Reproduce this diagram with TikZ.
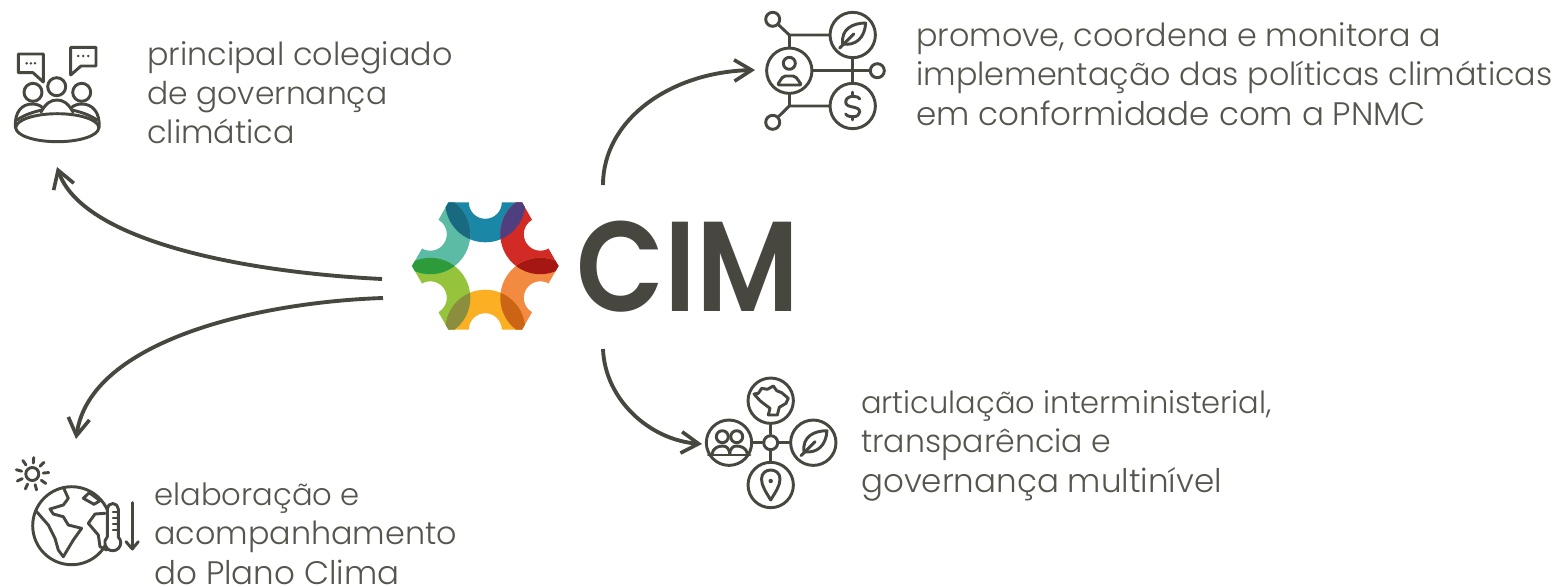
\documentclass[tikz,border=0pt]{standalone}
\usepackage{fontspec}
\setmainfont{Poppins Light}
\newfontfamily\logofont{Poppins SemiBold}
\usetikzlibrary{arrows.meta}
\definecolor{ink}{HTML}{47473F}
\definecolor{txt}{HTML}{55554D}
\newcommand{\sz}[1]{\fontsize{#1pt}{29.4pt}\selectfont}
\tikzset{
  icon/.style={draw=ink,line width=2.2pt,line join=round,line cap=round},
  ring/.style={circle,draw=ink,line width=2.2pt,inner sep=0pt,minimum size=34pt,fill=white},
  dotring/.style={ring,minimum size=10.5pt},
  flow/.style={draw=ink,line width=2.9pt,-{Straight Barb[length=13pt,width=16pt,line width=2.7pt]}},
  lbl/.style={anchor=base west,text=txt,inner sep=0pt,align=left,font=\sz{23.85}},
}
\newcommand{\leafic}[1]{%
  \draw[icon,shift={(#1)}] (13,-12) .. controls (0,-12) and (-12,-6) .. (-10,9) .. controls (3,11) and (12,3) .. cycle;
  \draw[icon,shift={(#1)}] (-13,13) -- (1,-1);}
\begin{document}
\begin{tikzpicture}[x=0.75pt,y=-0.75pt]
\useasboundingbox (0,0) rectangle (1558,586);
% logo
\def\Rout{40}\def\Rin{16.5}
\coordinate (hex) at (485.3,266);
\newcommand{\hexclip}{\clip (412,266) -- (448.5,202.3) -- (522,202.3) -- (558.5,266) -- (522,329.7) -- (448.5,329.7) -- cycle;}
\coordinate (mB) at (485.3,202.3);
\coordinate (mR) at (540.3,234.2);
\coordinate (mO) at (540.3,297.8);
\coordinate (mY) at (485.3,329.7);
\coordinate (mG) at (430.3,297.8);
\coordinate (mT) at (430.3,234.2);
\begin{scope}
\hexclip
\foreach \m/\c in {mB/1B87A6,mR/D22B26,mO/F28A42,mY/FBB024,mG/95C43C,mT/5BBBA4}{
  \definecolor{pc}{HTML}{\c}
  \fill[pc,even odd rule] (\m) circle (\Rout) (\m) circle (\Rin);
}
\foreach \a/\b/\c in {mB/mR/503F7E,mR/mO/A51712,mO/mY/CC6415,mY/mG/8A8E3D,mG/mT/2E9B3B,mT/mB/196A80}{
  \definecolor{pc}{HTML}{\c}
  \begin{scope}
    \clip (\a) circle (\Rout);
    \fill[pc] (\b) circle (\Rout);
  \end{scope}
}
\end{scope}
\node[anchor=base west,inner sep=0pt,text=ink,font=\logofont\fontsize{96pt}{96pt}\selectfont] (cim) at (576,311) {\scalebox{0.895}[1]{CIM}};
% connector ends
\coordinate (a1) at (382,279); \coordinate (b1) at (57,167);
\coordinate (a2) at (383,298); \coordinate (b2) at (76,439);
\coordinate (a3) at (603,185); \coordinate (b3) at (755,70);
\coordinate (a4) at (603,349); \coordinate (b4) at (702,444);
\draw[flow] (a1) .. controls (240,272) and (82,240) .. (b1);
\draw[flow] (a2) .. controls (260,302) and (90,340) .. (b2);
\draw[flow] (a3) .. controls (603,120) and (670,72) .. (b3);
\draw[flow] (a4) .. controls (605,400) and (650,440) .. (b4);
% icon 1
\draw[icon] (18.3,54) -- (43.3,54) -- (43.3,82) -- (33,72.7) -- (18.3,72.7) -- cycle;
\draw[icon] (70.7,47.3) -- (96,47.3) -- (96,66) -- (81,66) -- (70.7,75) -- cycle;
\foreach \x in {26.7,30.9,35}{\fill[ink] (\x,63.3) circle (1.4);}
\foreach \x in {78.3,83.3,88.3}{\fill[ink] (\x,56) circle (1.4);}
\node[dotring,minimum size=13.5pt] (h1) at (33,92.3) {};
\node[dotring,minimum size=13.5pt] (h2) at (56.7,86.7) {};
\node[dotring,minimum size=13.5pt] (h3) at (81.7,92.3) {};
\draw[icon] (15.5,128) .. controls (14,112) and (22,104) .. (32,104) .. controls (36,104) and (40,105) .. (43,108);
\draw[icon] (99,128) .. controls (100.5,112) and (92,104) .. (82,104) .. controls (78,104) and (74,105) .. (71,108);
\draw[icon] (41,112) .. controls (46,103) and (51,100) .. (57,100) .. controls (63,100) and (68,103) .. (73,112);
\draw[icon] (17,120) .. controls (24,115) and (33,112) .. (42,110);
\draw[icon] (97,120) .. controls (90,115) and (81,112) .. (72,110);
\draw[icon,fill=white] (57.3,127.7) ellipse (41.5 and 14);
% icon 2
\node[ring] (person) at (789.3,70.7) {};
\node[ring] (leaf1) at (852.7,35) {};
\node[ring] (dollar) at (852.7,106) {};
\node[dotring] (s1) at (772.7,19.3) {};
\node[dotring] (s2) at (772.7,122.3) {};
\node[dotring] (s3) at (877.3,70.7) {};
\coordinate (j1) at (789.3,35); \coordinate (j2) at (789.3,106);
\draw[icon] (s1) -- (j1) -- (leaf1);
\draw[icon] (j1) -- (person);
\draw[icon] (s2) -- (j2) -- (dollar);
\draw[icon] (j2) -- (person);
\draw[icon] (person) -- (s3);
\draw[icon] (leaf1) -- (dollar);
\draw[icon] (789.3,63.3) circle (6);
\draw[icon,rounded corners=1.5pt] (777.3,85) -- (801.7,85) -- (795,76) -- (783.3,76) -- cycle;
\leafic{852.7,35}
\begin{scope}[shift={(852.7,106)}]
\draw[icon] (7,-7) .. controls (5,-11) and (-7,-11) .. (-7,-4) .. controls (-7,3) and (7,-1) .. (7,6) .. controls (7,12) and (-5,12) .. (-7,8);
\draw[icon] (0,-14) -- (0,-10); \draw[icon] (0,11) -- (0,14);
\end{scope}
% icon 3
\node[dotring] (hub) at (770.7,442.7) {};
\node[ring] (map) at (770.7,400.7) {};
\node[ring] (pin) at (770.7,485) {};
\node[ring] (ppl) at (729,442.7) {};
\node[ring] (leaf2) at (813.3,442.7) {};
\foreach \n in {map,pin,ppl,leaf2}{\draw[icon] (hub) -- (\n);}
\draw[icon] (754,394) -- (758.3,393.3) -- (761.7,388.3) -- (767.3,389.3) -- (773.3,386) -- (776.7,390.7) -- (781.7,392.7) -- (788.3,398.3) -- (786,403.3) -- (779.3,407.3) -- (777.3,415) -- (768.3,415) -- (770,408.3) -- (763.3,403.3) -- (760,400.7) -- cycle;
\draw[icon] (770.7,500) .. controls (766,492) and (761.5,486) .. (761.5,479) .. controls (761.5,473) and (766,470) .. (770.7,470) .. controls (775.4,470) and (780,473) .. (780,479) .. controls (780,486) and (775.4,492) .. (770.7,500) -- cycle;
\fill[ink] (770.7,481) circle (2.2);
\draw[icon] (722.3,436.7) circle (6); \draw[icon] (736.7,436.7) circle (6);
\draw[icon] (708.3,455) -- (750,455);
\draw[icon] (712,454) .. controls (713,448) and (718,446) .. (723,446) .. controls (727,446) and (729,449) .. (730,454);
\draw[icon] (747.4,454) .. controls (746.4,448) and (741.4,446) .. (736.4,446) .. controls (732.4,446) and (730.4,449) .. (729.4,454);
\leafic{814,442.7}
% icon 4
\draw[icon] (32.3,474) circle (6.5);
\foreach \a in {0,40,...,320}{\draw[icon] (32.3,474) ++(\a-85:11) -- ++(\a-85:5.5);}
\draw[icon] (71.7,525.7) circle (39);
\draw[icon] (63.3,487.3) -- (68.3,498.3) -- (63.3,505) -- (50,509) -- (53.3,514) -- (63.3,516.7) -- (68.3,525) -- (81.7,528.3) -- (73.3,540) -- (63.3,556.7) -- (58.3,550) -- (55,538.3) -- (48.3,525) -- (36.7,511.7);
\draw[icon] (83.3,498.3) -- (89.3,492.7) -- (100,500.7) -- (94,504.3) -- cycle;
\draw[icon] (105,513.3) -- (95,514) -- (88.3,523.3) -- (98.3,535) -- (100,546.7) -- (106.7,550);
\draw[icon,fill=white] (107.3,537) -- (107.3,509) arc (180:360:5.5) -- (118.3,537) arc (-46:226:8) -- cycle;
\foreach \y in {512,518,524,530}{\draw[icon,line width=1.2pt] (112.8,\y) -- (118,\y);}
\draw[icon] (132.3,502.7) -- (132.3,549);
\draw[icon] (126,541.7) -- (132.3,549) -- (138.3,541.7);
% labels
\node[lbl] (t1) at (147,143.5) {principal colegiado\\\sz{23.55}de governança\\\sz{23.85}climática};
\node[lbl] (t2) at (916,125) {promove, coordena e monitora a\\implementação das políticas climáticas\\\sz{24.4}em conformidade com a PNMC};
\node[lbl] (t3) at (861,492) {\sz{22.9}articulação interministerial,\\\sz{23.7}transparência e\\\sz{24.4}governança multinível};
\node[lbl] (t4) at (154,584) {\sz{23}elaboração e\\\sz{23.85}acompanhamento\\\sz{24.4}do Plano Clima};
\end{tikzpicture}
\end{document}
